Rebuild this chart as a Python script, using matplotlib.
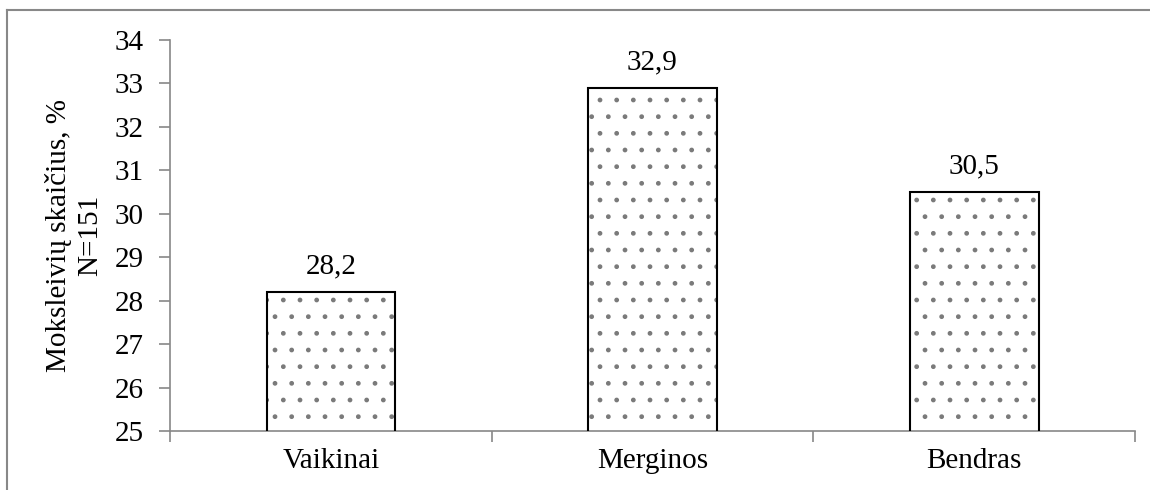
import numpy as np
import matplotlib.pyplot as plt
from matplotlib.lines import Line2D

# survey groups and their share, %
groups = ["Vaikinai", "Merginos", "Bendras"]
shares = [28.2, 32.9, 30.5]
y_ticks = [25, 26, 27, 28, 29, 30, 31, 32, 33, 34]

plt.rcParams['font.family'] = ['Liberation Serif', 'DejaVu Serif']
plt.rcParams['font.size'] = 21

fig = plt.figure(figsize=(11.5, 4.9), dpi=100)
ax = fig.add_axes([170 / 1150, 59 / 490, 965 / 1150, 391 / 490])

x = np.arange(len(groups))
# dotted fill first, then the black outline on top
ax.bar(x, shares, width=0.4, bottom=0, color='white', edgecolor='#7a7a7a',
       linewidth=0, hatch='.', zorder=2)
ax.bar(x, shares, width=0.4, bottom=0, fill=False, edgecolor='black',
       linewidth=1.5, zorder=3)

for xi, v in zip(x, shares):
    ax.annotate(f"{v:.1f}".replace('.', ','), (xi, v), xytext=(0, 9),
                textcoords='offset points', ha='center', va='bottom')

ax.set_ylim(25, 34)
ax.set_xlim(-0.5, len(groups) - 0.5)
ax.set_yticks(y_ticks)

# category boundaries get the tick marks, names sit at the centres
ax.set_xticks(np.arange(len(groups) + 1) - 0.5)
ax.set_xticklabels([])
ax.set_xticks(x, minor=True)
ax.set_xticklabels(groups, minor=True)
ax.tick_params(axis='x', which='major', length=8, width=1.2, color='#888888', direction='out')
ax.tick_params(axis='x', which='minor', length=0, pad=12)
ax.tick_params(axis='y', length=8, width=1.2, color='#888888', direction='out', pad=11)

for side in ['top', 'right']:
    ax.spines[side].set_visible(False)
for side in ['left', 'bottom']:
    ax.spines[side].set_color('#888888')
    ax.spines[side].set_linewidth(1.2)

fig.text(74 / 1150, 0.519, "Moksleivių skaičius, %\nN=151", rotation=90,
         ha='center', va='center', multialignment='center', linespacing=1.3)

# chart frame, only the left and top edges fall inside the image
fig.add_artist(Line2D([7 / 1150, 7 / 1150], [0, 1 - 10 / 490], transform=fig.transFigure,
                      color='#888888', linewidth=1.5))
fig.add_artist(Line2D([7 / 1150, 1], [1 - 10 / 490, 1 - 10 / 490], transform=fig.transFigure,
                      color='#888888', linewidth=1.5))

fig.savefig("out.png", dpi=100)
